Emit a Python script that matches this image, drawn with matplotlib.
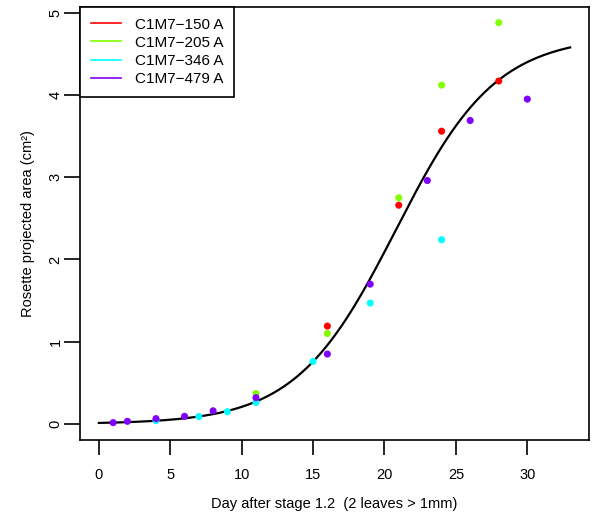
import matplotlib
matplotlib.use('Agg')
import matplotlib.pyplot as plt
import numpy as np

plt.rcParams['font.family'] = ['Liberation Sans', 'DejaVu Sans']

# data
day_150 = [16, 21, 24, 28]
area_150 = [1.19, 2.66, 3.56, 4.17]

day_205 = [11, 16, 21, 24, 28]
area_205 = [0.37, 1.10, 2.75, 4.12, 4.88]

day_346 = [4, 7, 9, 11, 15, 19, 24]
area_346 = [0.04, 0.09, 0.15, 0.26, 0.76, 1.47, 2.24]

day_479 = [1, 2, 4, 6, 8, 11, 16, 19, 23, 26, 30]
area_479 = [0.016, 0.032, 0.065, 0.093, 0.16, 0.32, 0.85, 1.70, 2.96, 3.69, 3.95]

labels = ['C1M7\u2212150 A', 'C1M7\u2212205 A', 'C1M7\u2212346 A', 'C1M7\u2212479 A']
colors = ['#FF0000', '#80FF00', '#00FFFF', '#8000FF']

# fitted logistic model (asymptote, midpoint, rate)
fit_K = 4.72
fit_x0 = 20.8
fit_r = 0.285
fit_range = (0, 33)

fig = plt.figure(figsize=(6, 5.2), dpi=100)
ax = fig.add_axes([80 / 600, 1 - 440 / 520, 509 / 600, 433 / 520])

series = [(day_150, area_150), (day_205, area_205),
          (day_346, area_346), (day_479, area_479)]
for (d, a), c, lab in zip(series, colors, labels):
    ax.scatter(d, a, s=26, color=c, edgecolors='none', zorder=3)
    ax.plot([], [], color=c, lw=1.2, label=lab)

xs = np.linspace(fit_range[0], fit_range[1], 200)
ax.plot(xs, fit_K / (1 + np.exp(-fit_r * (xs - fit_x0))), color='black', lw=1.6, zorder=2)

ax.set_xlim(-1.32, 34.32)
ax.set_ylim(-0.195, 5.07)
ax.set_xticks([0, 5, 10, 15, 20, 25, 30])
ax.set_yticks([0, 1, 2, 3, 4, 5])
ax.tick_params(direction='out', width=1.2, labelsize=10.5)
ax.tick_params(axis='x', length=11, pad=9)
ax.tick_params(axis='y', length=11.5, pad=1)
for t in ax.get_yticklabels():
    t.set_rotation(90)
    t.set_va('center')
for s in ax.spines.values():
    s.set_linewidth(1.2)

ax.set_xlabel('Day after stage 1.2  (2 leaves > 1mm)', fontsize=10.5, labelpad=11)
ax.set_ylabel('Rosette projected area (cm\u00b2)', fontsize=10.5, labelpad=10)

leg = ax.legend(loc='upper left', bbox_to_anchor=(0, 1), borderaxespad=0,
                fontsize=11, fancybox=False, framealpha=1, handlelength=2.0,
                handletextpad=0.9, labelspacing=0.27, borderpad=0.7)
leg.get_frame().set_edgecolor('black')
leg.get_frame().set_linewidth(1.2)

fig.savefig('out.png', dpi=100)
